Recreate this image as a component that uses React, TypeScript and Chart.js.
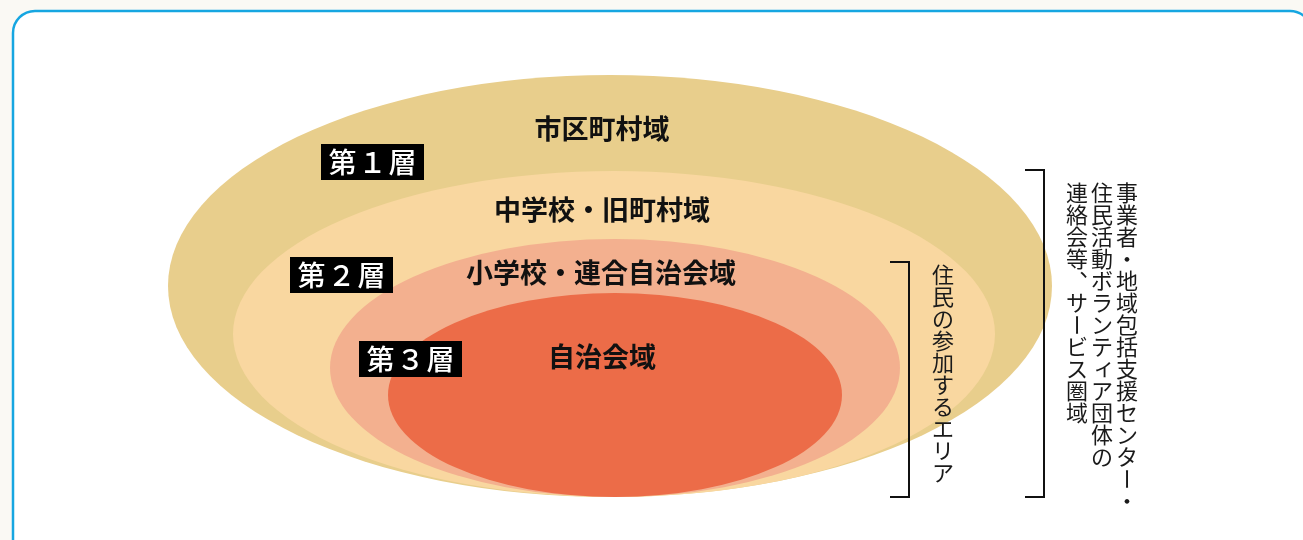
import React, { useEffect, useRef } from 'react';
import { Chart, registerables } from 'chart.js';

Chart.register(...registerables);

// ---- Data (diagram units: x 0..1303, y 0..540 top-down) ----
const regionNames = ['市区町村域', '中学校・旧町村域', '小学校・連合自治会域', '自治会域'];
const regionCenterX = [610, 614, 615, 615];
const regionCenterY = [286, 334, 368, 395];
const regionRadiusX = [442, 381, 285, 227];
const regionRadiusY = [211, 163, 129, 102];
const regionColors = ['#E8CE8C', '#F9D7A0', '#F3B08F', '#EC6C48'];
const regionLabelX = [602, 602, 601, 602];
const regionLabelY = [129, 210, 273, 357];

const layerNames = ['第１層', '第２層', '第３層'];
const layerBoxLeft = [321, 290, 359];
const layerBoxTop = [144, 257, 341];

const bracketNames = ['住民の参加するエリア', '事業者・地域包括支援センター・\n住民活動ボランティア団体の\n連絡会等、サービス圏域'];
const bracketX = [909, 1044];
const bracketTop = [262, 170];
const bracketBottom = [497, 497];
const bracketTextX = [943, 1127];
const bracketTextTop = [275, 193];

const FONT = "'Noto Sans CJK JP', 'Noto Sans', sans-serif";

function drawVertical(ctx: CanvasRenderingContext2D, text: string, cx: number, cy0: number, step: number, size: number) {
  const chars = Array.from(text);
  chars.forEach((ch, i) => {
    const y = cy0 + i * step;
    ctx.save();
    ctx.translate(cx, y);
    if (ch === 'ー') {
      ctx.rotate(Math.PI / 2);
    } else if (ch === '、' || ch === '。') {
      ctx.translate(size * 0.6, -size * 0.6);
    } else if ('ァィゥェォッャュョ'.includes(ch)) {
      ctx.translate(size * 0.1, -size * 0.12);
    }
    ctx.fillText(ch, 0, 0);
    ctx.restore();
  });
}

const diagramPlugin = {
  id: 'diagram',
  beforeDraw(chart: any) {
    const ctx: CanvasRenderingContext2D = chart.ctx;
    ctx.save();
    ctx.fillStyle = '#FAF9F4';
    ctx.fillRect(0, 0, chart.width, chart.height);
    const x0 = 13, y0 = 11, x1 = 1312, y1 = 600, r = 22;
    ctx.beginPath();
    ctx.moveTo(x0 + r, y0);
    ctx.lineTo(x1 - r, y0);
    ctx.arcTo(x1, y0, x1, y0 + r, r);
    ctx.lineTo(x1, y1);
    ctx.lineTo(x0, y1);
    ctx.lineTo(x0, y0 + r);
    ctx.arcTo(x0, y0, x0 + r, y0, r);
    ctx.closePath();
    ctx.fillStyle = '#FFFFFF';
    ctx.fill();
    ctx.lineWidth = 2.5;
    ctx.strokeStyle = '#16A6E1';
    ctx.stroke();
    ctx.restore();
  },
  beforeDatasetsDraw(chart: any) {
    const ctx: CanvasRenderingContext2D = chart.ctx;
    const xs = chart.scales.x;
    const ys = chart.scales.y;
    ctx.save();
    chart.data.datasets.forEach((ds: any, i: number) => {
      const meta = chart.getDatasetMeta(i);
      const pt = meta.data[0];
      const rx = Math.abs(xs.getPixelForValue(regionCenterX[i] + regionRadiusX[i]) - pt.x);
      const ry = Math.abs(ys.getPixelForValue(regionCenterY[i] + regionRadiusY[i]) - pt.y);
      ctx.beginPath();
      ctx.ellipse(pt.x, pt.y, rx, ry, 0, 0, Math.PI * 2);
      ctx.fillStyle = regionColors[i];
      ctx.fill();
    });
    ctx.restore();
  },
  afterDatasetsDraw(chart: any) {
    const ctx: CanvasRenderingContext2D = chart.ctx;
    const xs = chart.scales.x;
    const ys = chart.scales.y;
    ctx.save();
    ctx.textAlign = 'center';
    ctx.textBaseline = 'middle';
    // region labels
    ctx.fillStyle = '#111111';
    ctx.font = `bold 27px ${FONT}`;
    regionNames.forEach((name, i) => {
      ctx.fillText(name, xs.getPixelForValue(regionLabelX[i]), ys.getPixelForValue(regionLabelY[i]));
    });
    // layer boxes
    layerNames.forEach((name, i) => {
      const l = xs.getPixelForValue(layerBoxLeft[i]);
      const t = ys.getPixelForValue(layerBoxTop[i]);
      ctx.fillStyle = '#000000';
      ctx.fillRect(l, t, 103, 36);
      ctx.fillStyle = '#FFFFFF';
      ctx.font = `500 28px ${FONT}`;
      Array.from(name).forEach((ch, k) => {
        ctx.fillText(ch, l + 51.5 + (k - 1) * 30, t + 18);
      });
    });
    // brackets
    ctx.strokeStyle = '#111111';
    ctx.lineWidth = 2;
    bracketX.forEach((bx, i) => {
      const x = xs.getPixelForValue(bx);
      const t = ys.getPixelForValue(bracketTop[i]);
      const b = ys.getPixelForValue(bracketBottom[i]);
      ctx.beginPath();
      ctx.moveTo(x - 19, t);
      ctx.lineTo(x, t);
      ctx.lineTo(x, b);
      ctx.lineTo(x - 19, b);
      ctx.stroke();
    });
    // vertical texts
    ctx.fillStyle = '#1A1A1A';
    ctx.font = `400 22px ${FONT}`;
    bracketNames.forEach((txt, i) => {
      const lines = txt.split('\n');
      lines.forEach((line, j) => {
        const cx = xs.getPixelForValue(bracketTextX[i]) - j * 25;
        drawVertical(ctx, line, cx, ys.getPixelForValue(bracketTextTop[i]), 22, 22);
      });
    });
    ctx.restore();
  },
};

export default function App() {
  const ref = useRef<HTMLCanvasElement | null>(null);
  useEffect(() => {
    if (!ref.current) return;
    const chart = new Chart(ref.current, {
      type: 'scatter',
      data: {
        datasets: regionNames.map((name, i) => ({
          label: name,
          data: [{ x: regionCenterX[i], y: regionCenterY[i] }],
          pointRadius: 0,
          backgroundColor: regionColors[i],
        })),
      },
      options: {
        animation: false,
        responsive: true,
        maintainAspectRatio: false,
        layout: { padding: 0 },
        events: [],
        plugins: { legend: { display: false }, tooltip: { enabled: false } },
        scales: {
          x: { type: 'linear', min: 0, max: 1303, display: false },
          y: { type: 'linear', min: 0, max: 540, reverse: true, display: false },
        },
      },
      plugins: [diagramPlugin],
    });
    return () => chart.destroy();
  }, []);
  return (
    <div style={{ position: 'fixed', left: 0, top: 0, width: 1303, height: 540 }}>
      <canvas ref={ref} />
    </div>
  );
}
